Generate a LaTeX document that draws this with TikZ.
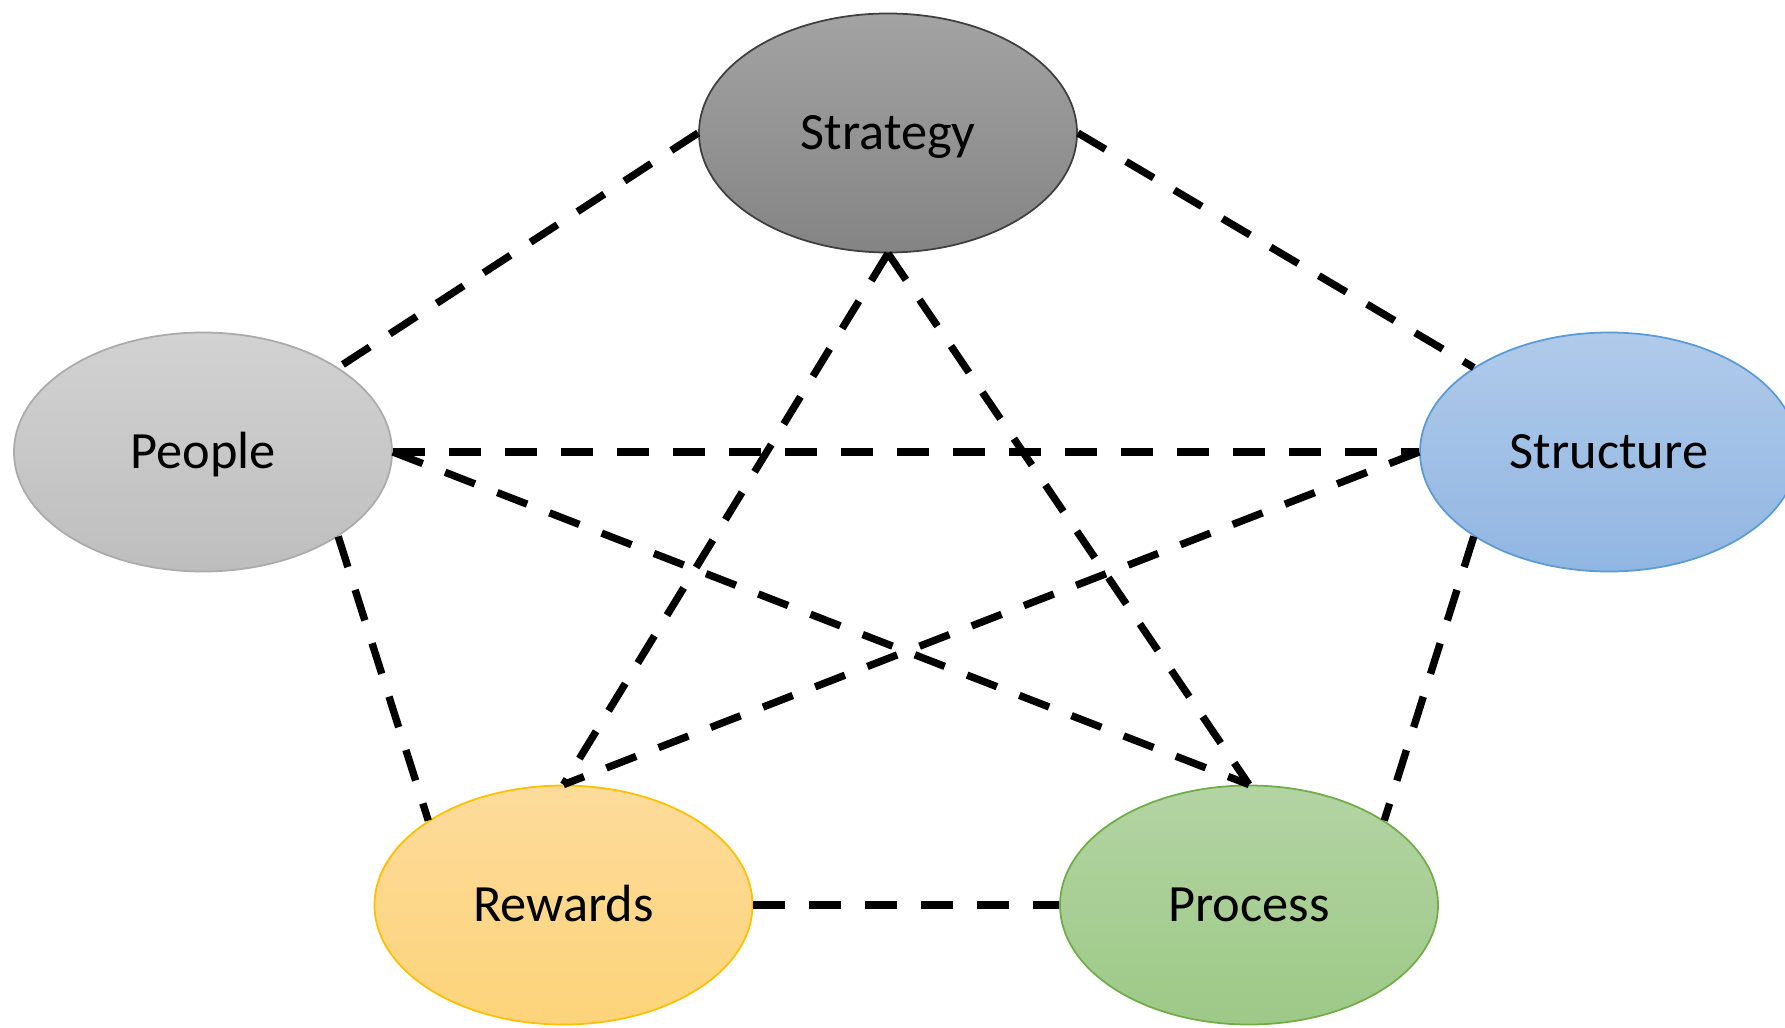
\documentclass[tikz,border=0pt]{standalone}
\usepackage{fontspec}
\setmainfont{Carlito}
\usetikzlibrary{shapes.geometric}

\definecolor{stratTop}{HTML}{A3A3A3}
\definecolor{stratBot}{HTML}{848484}
\definecolor{stratLine}{HTML}{3F3F3F}
\definecolor{peopTop}{HTML}{D2D2D2}
\definecolor{peopBot}{HTML}{BEBEBE}
\definecolor{peopLine}{HTML}{ABABAB}
\definecolor{strucTop}{HTML}{B0CAEA}
\definecolor{strucBot}{HTML}{91B6E2}
\definecolor{strucLine}{HTML}{5B9BD5}
\definecolor{rewTop}{HTML}{FDDB9B}
\definecolor{rewBot}{HTML}{FDD47A}
\definecolor{rewLine}{HTML}{FFC000}
\definecolor{procTop}{HTML}{B3D4A3}
\definecolor{procBot}{HTML}{9DC987}
\definecolor{procLine}{HTML}{70AD47}

\tikzstyle{element} = [ellipse, minimum width=3.78cm, minimum height=2.39cm, inner sep=0pt, line width=0.5pt, text height=11pt, text depth=1.4pt, font=\fontsize{14.9}{18}\selectfont]
\tikzstyle{link} = [line width=2.1pt, dash pattern=on 0.32cm off 0.24cm]

\begin{document}
\begin{tikzpicture}
      \useasboundingbox (0,0) rectangle (17.85,10.27);
      \node[element, draw=stratLine, top color=stratTop, bottom color=stratBot] (strategy) at (8.88,8.94) {Strategy};
      \node[element, draw=peopLine, top color=peopTop, bottom color=peopBot] (people) at (2.03,5.75) {People};
      \node[element, draw=strucLine, top color=strucTop, bottom color=strucBot] (structure) at (16.09,5.75) {Structure};
      \node[element, draw=rewLine, top color=rewTop, bottom color=rewBot] (rewards) at (5.635,1.22) {Rewards};
      \node[element, draw=procLine, top color=procTop, bottom color=procBot] (process) at (12.49,1.22) {Process};
      \draw[link] (strategy.west) -- (people.32);
      \draw[link] (strategy.east) -- (structure.148);
      \draw[link] (strategy.south) -- (rewards.north);
      \draw[link] (strategy.south) -- (process.north);
      \draw[link] (people.east) -- (structure.west);
      \draw[link] (people.east) -- (process.north);
      \draw[link] (structure.west) -- (rewards.north);
      \draw[link] (people.-32) -- (rewards.148);
      \draw[link] (structure.212) -- (process.32);
      \draw[link] (rewards.east) -- (process.west);
    \end{tikzpicture}
\end{document}
